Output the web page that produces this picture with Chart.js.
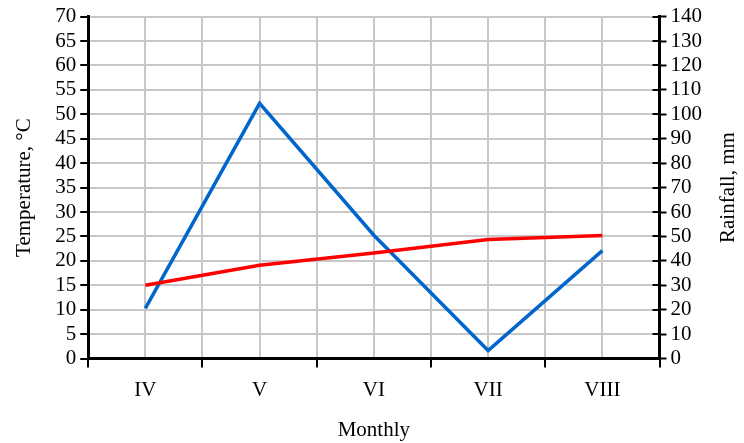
<!DOCTYPE html>
<html>
<head>
<meta charset="utf-8">
<script src="https://cdn.jsdelivr.net/npm/chart.js@4/dist/chart.umd.min.js"></script>
<style>
  html, body { margin: 0; padding: 0; background: #fff; }
  #wrap { width: 744px; height: 443px; }
</style>
</head>
<body>
<div id="wrap"><canvas id="c" width="744" height="443"></canvas></div>
<script>
// donnees
const months = ['IV', 'V', 'VI', 'VII', 'VIII']
const temperature = [15.0, 19.1, 21.6, 24.4, 25.2]
const rainfall = [20.6, 104.5, 50.5, 3.3, 44.2]

const FONT = { family: 'Liberation Serif', size: 21 }

// traits interieurs de l'axe de droite + titre de droite (lu de bas en haut)
const rightAxisExtras = {
  id: 'rightAxisExtras',
  afterDraw(chart) {
    const s = chart.scales.y2
    const ctx = chart.ctx
    ctx.save()
    ctx.strokeStyle = '#000'
    ctx.lineWidth = 2
    s.ticks.forEach(t => {
      const y = Math.round(s.getPixelForValue(t.value))
      ctx.beginPath()
      ctx.moveTo(s.left - 7, y)
      ctx.lineTo(s.left, y)
      ctx.stroke()
    })
    ctx.translate(chart.width - 16, (s.top + s.bottom) / 2)
    ctx.rotate(-Math.PI / 2)
    ctx.fillStyle = '#000'
    ctx.font = FONT.size + 'px ' + FONT.family
    ctx.textAlign = 'center'
    ctx.textBaseline = 'middle'
    ctx.fillText('Rainfall, mm', 0, 0)
    ctx.restore()
  }
}

new Chart(document.getElementById('c'), {
  type: 'line',
  data: {
    datasets: [
      {
        label: 'Temperature',
        data: temperature.map((v, i) => ({ x: i, y: v })),
        borderColor: '#ff0000',
        borderWidth: 3.5,
        pointRadius: 0,
        tension: 0,
        yAxisID: 'y'
      },
      {
        label: 'Rainfall',
        data: rainfall.map((v, i) => ({ x: i, y: v })),
        borderColor: '#0066cc',
        borderWidth: 3.5,
        pointRadius: 0,
        tension: 0,
        yAxisID: 'y2'
      }
    ]
  },
  plugins: [rightAxisExtras],
  options: {
    responsive: false,
    animation: false,
    layout: { padding: { top: 4, right: 38, left: 12, bottom: 0 } },
    plugins: { legend: { display: false }, tooltip: { enabled: false } },
    scales: {
      x: {
        type: 'linear',
        min: -0.5,
        max: 4.5,
        border: { color: '#000', width: 3 },
        grid: {
          color: '#c8c8c8',
          lineWidth: 2,
          tickLength: 9,
          tickColor: ctx => (ctx.tick && Number.isInteger(ctx.tick.value)) ? 'rgba(0,0,0,0)' : '#000',
          tickWidth: 2
        },
        ticks: {
          stepSize: 0.5,
          autoSkip: false,
          maxRotation: 0,
          padding: 10,
          color: '#000',
          font: FONT,
          callback: v => Number.isInteger(v) ? months[v] : ''
        },
        title: { display: true, text: 'Monthly', color: '#000', font: FONT, padding: { top: 5, bottom: 0 } }
      },
      y: {
        position: 'left',
        min: 0,
        max: 70,
        border: { color: '#000', width: 3 },
        grid: { color: '#c8c8c8', lineWidth: 2, tickLength: 8, tickColor: '#000', tickWidth: 2 },
        ticks: { stepSize: 5, autoSkip: false, padding: 4, color: '#000', font: FONT },
        title: { display: true, text: 'Temperature, °C', color: '#000', font: FONT, padding: { top: 0, bottom: 14 } }
      },
      y2: {
        position: 'right',
        min: 0,
        max: 140,
        border: { color: '#000', width: 3 },
        grid: { drawOnChartArea: false, tickLength: 7, tickColor: '#000', tickWidth: 2 },
        ticks: { stepSize: 10, autoSkip: false, padding: 4, color: '#000', font: FONT }
      }
    }
  }
})
</script>
</body>
</html>
